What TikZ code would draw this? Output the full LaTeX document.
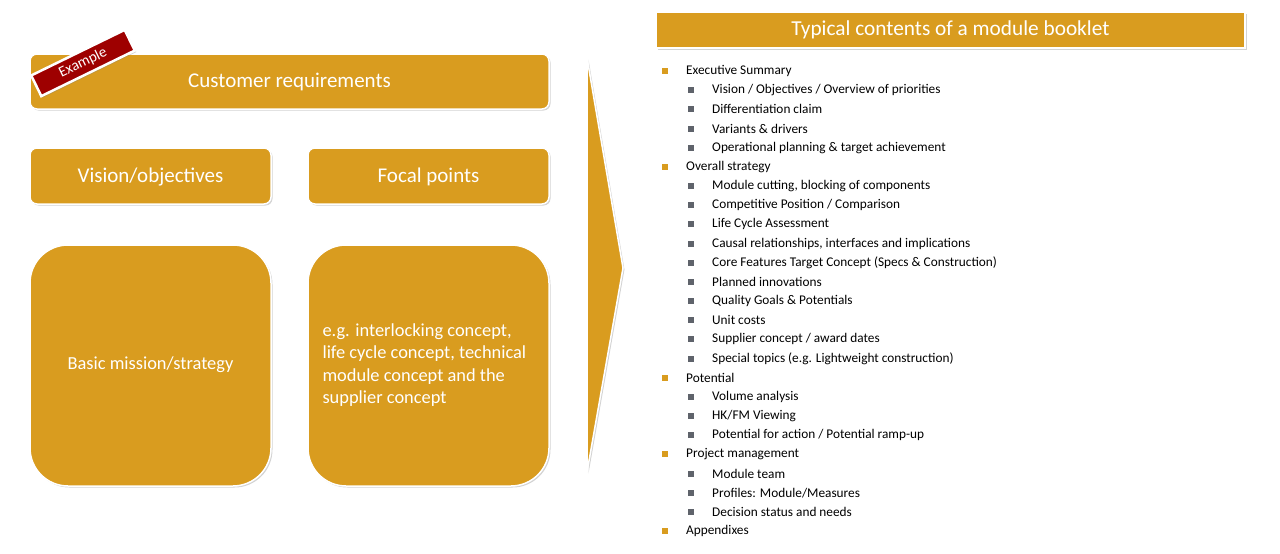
\documentclass[tikz,border=0pt]{standalone}
\usepackage{fontspec}
\setmainfont{Carlito}
\usetikzlibrary{shadows}
\definecolor{gold}{HTML}{D99C1F}
\definecolor{exred}{HTML}{9E0000}
\definecolor{bgray}{HTML}{5F636B}
\tikzset{
 box/.style={fill=gold,draw=white,line width=1.5pt,rounded corners=#1,drop shadow={shadow xshift=1.5pt,shadow yshift=-1.5pt,opacity=0.35}},
 btxt/.style={text=white,font=\fontsize{21}{25}\selectfont},
 l1/.style={anchor=west,font=\fontsize{13.3}{15}\selectfont,text=black,inner sep=0},
 b1/.style={fill=gold,minimum size=6pt,inner sep=0},
 b2/.style={fill=bgray,minimum size=6pt,inner sep=0}
}
\begin{document}
\begin{tikzpicture}[x=1pt,y=-1pt]
\useasboundingbox (0,0) rectangle (1280,554);
\draw[box=7pt] (30,54) rectangle (549,109);
\node[btxt] (cr) at (289.5,82) {Customer requirements};
\draw[box=7pt] (30,148) rectangle (271,204);
\node[btxt] (vo) at (150.5,177) {Vision/objectives};
\draw[box=7pt] (308,148) rectangle (549,204);
\node[btxt] (fp) at (428.5,177) {Focal points};
\draw[box=38pt] (30,245) rectangle (271,486);
\node[text=white,font=\fontsize{18.4}{22}\selectfont] (bm) at (150.5,365) {Basic mission/strategy};
\draw[box=38pt] (308,245) rectangle (549,486);
\node[text=white,font=\fontsize{18.4}{22.5}\selectfont,align=left,anchor=west] (eg) at (319,365) {e.g. interlocking concept,\\life cycle concept, technical\\module concept and the\\supplier concept};
\node[fill=exred,draw=white,line width=2.5pt,rotate=26,text=white,minimum width=104pt,minimum height=23pt,font=\fontsize{15}{17}\selectfont,drop shadow={shadow xshift=1.5pt,shadow yshift=-1.5pt,opacity=0.35}] (ex) at (83,63) {Example};
\fill[gold,draw=white,line width=1.5pt,drop shadow={shadow xshift=1.5pt,shadow yshift=-1.5pt,opacity=0.35}] (587,58) -- (623,268) -- (587,472) -- cycle;
\node[fill=gold,draw=white,line width=1.5pt,minimum width=589pt,minimum height=36pt,text=white,font=\fontsize{21.3}{25}\selectfont,drop shadow={shadow xshift=1.5pt,shadow yshift=-1.5pt,opacity=0.35}] (title) at (950.5,30) {Typical contents of a module booklet};
\foreach \lv/\t [count=\i from 0] in {
1/{Executive Summary},
2/{Vision / Objectives / Overview of priorities},
2/{Differentiation claim},
2/{Variants \& drivers},
2/{Operational planning \& target achievement},
1/{Overall strategy},
2/{Module cutting, blocking of components},
2/{Competitive Position / Comparison},
2/{Life Cycle Assessment},
2/{Causal relationships, interfaces and implications},
2/{Core Features Target Concept (Specs \& Construction)},
2/{Planned innovations},
2/{Quality Goals \& Potentials},
2/{Unit costs},
2/{Supplier concept / award dates},
2/{Special topics (e.g. Lightweight construction)},
1/{Potential},
2/{Volume analysis},
2/{HK/FM Viewing},
2/{Potential for action / Potential ramp-up},
1/{Project management},
2/{Module team},
2/{Profiles: Module/Measures},
2/{Decision status and needs},
1/{Appendixes}}{
 \pgfmathsetmacro{\yy}{71+19.17*\i}
 \ifnum\lv=1
  \node[b1] (b\i) at (665,\yy) {};
  \node[l1] (t\i) at (686,\yy) {\t};
 \else
  \node[b2] (b\i) at (691,\yy) {};
  \node[l1] (t\i) at (712,\yy) {\t};
 \fi
}
\end{tikzpicture}
\end{document}
